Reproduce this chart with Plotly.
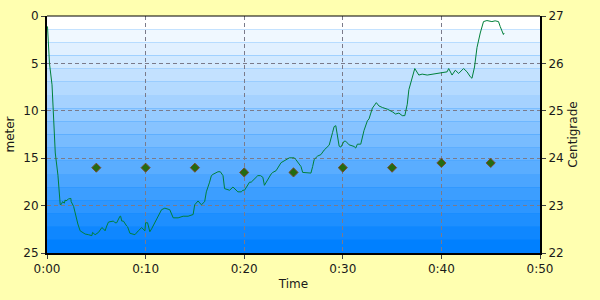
import plotly.graph_objects as go

# Depth profile (time in minutes, depth in meters)
time_min = [0.05, 0.13, 0.25, 0.51, 0.61, 0.78, 0.84, 1.11, 1.21, 1.34, 1.44, 1.59, 1.75, 1.85, 1.92,
            2.19, 2.42, 2.45, 2.70, 2.86, 3.13, 3.36, 3.71, 3.87, 4.21, 4.55, 4.62, 4.88, 5.22, 5.56,
            5.73, 5.89, 6.06, 6.23, 6.39, 6.74, 6.90, 7.07, 7.40, 7.47, 7.58, 7.75, 8.08, 8.18, 8.41,
            8.92, 9.26, 9.60, 9.93, 10.00, 10.20, 10.43, 10.61, 10.94, 11.21, 11.62, 11.95, 12.45,
            12.80, 13.30, 13.81, 14.31, 14.82, 14.98, 15.32, 15.66, 15.99, 16.16, 16.49, 16.67, 16.84,
            17.17, 17.34, 17.58, 17.85, 18.01, 18.35, 18.52, 18.86, 19.19, 19.36, 19.70, 19.87, 20.03,
            20.37, 20.54, 20.71, 21.04, 21.38, 21.65, 21.89, 22.05, 22.39, 22.73, 22.90, 23.23, 23.74,
            24.24, 24.58, 24.75, 25.08, 25.25, 25.59, 25.76, 25.93, 26.43, 26.77, 26.94, 27.10, 27.44,
            27.78, 28.11, 28.62, 28.96, 29.12, 29.29, 29.46, 29.63, 29.80, 30.13, 30.30, 30.64, 31.14,
            31.31, 31.48, 31.82, 32.15, 32.49, 32.66, 33.00, 33.40, 33.67, 34.01, 34.52, 35.02, 35.35,
            35.69, 36.03, 36.29, 36.54, 36.70, 37.04, 37.30, 37.71, 38.05, 38.56, 39.06, 39.57, 40.07,
            40.58, 40.74, 41.08, 41.41, 41.75, 42.25, 42.60, 42.93, 43.10, 43.36, 43.61, 43.94, 44.27,
            44.62, 45.12, 45.45, 45.79, 45.96, 46.13, 46.29, 46.36]
depth_m = [1.10, 2.64, 5.00, 7.26, 10.00, 12.73, 14.45, 16.80, 18.55, 19.89, 19.89, 19.58, 19.75, 19.40, 19.51,
           19.30, 19.24, 19.58, 20.09, 20.91, 21.94, 22.66, 22.86, 23.00, 23.07, 23.17, 22.83, 23.07, 22.83, 22.32,
           22.45, 22.66, 22.15, 21.74, 21.70, 21.63, 21.81, 21.81, 21.12, 21.12, 21.63, 21.63, 22.15, 22.25, 22.92,
           23.07, 22.66, 22.32, 22.66, 21.81, 21.81, 22.76, 22.45, 21.81, 21.22, 20.43, 20.27, 20.43,
           21.29, 21.29, 21.12, 21.12, 20.94, 19.92, 19.51, 19.92, 19.58, 18.55, 17.53, 16.84, 16.70,
           16.50, 16.43, 16.43, 16.84, 18.21, 18.38, 18.38, 18.04, 18.38, 18.55, 18.55, 18.38, 18.38,
           17.70, 17.53, 17.53, 17.19, 16.84, 16.84, 17.01, 17.86, 17.19, 16.67, 16.50, 16.32, 15.47,
           15.13, 14.96, 14.96, 14.96, 15.16, 15.68, 15.88, 16.50, 16.50, 16.57, 15.88, 15.13, 14.78,
           14.62, 14.14, 13.62, 12.29, 11.67, 11.57, 12.49, 13.73, 13.83, 13.21, 13.21, 13.59, 13.76,
           13.93, 13.52, 13.52, 12.08, 11.06, 10.85, 9.72, 9.14, 9.49, 9.65, 9.83, 10.10, 10.34,
           10.24, 10.51, 10.51, 9.31, 7.77, 6.41, 5.54, 6.23, 6.13, 6.23, 6.16, 6.06, 6.00,
           5.89, 5.54, 6.23, 5.72, 6.06, 5.54, 5.89, 6.41, 6.57, 5.38, 3.33, 1.79, 0.59,
           0.48, 0.59, 0.51, 0.59, 1.10, 1.61, 1.95, 1.79]

# Temperature samples
temp_time = [5, 10, 15, 20, 25, 30, 35, 40, 45]
temp_c = [23.8, 23.8, 23.8, 23.7, 23.7, 23.8, 23.8, 23.9, 23.9]

x_ticks = [0, 10, 20, 30, 40, 50]
x_labels = ["0:00", "0:10", "0:20", "0:30", "0:40", "0:50"]
depth_ticks = [0, 5, 10, 15, 20, 25]
temp_ticks = [22, 23, 24, 25, 26, 27]

FONT = "DejaVu Sans"
TXT = "#1a1a1a"

fig = go.Figure()
fig.add_trace(go.Scatter(x=time_min, y=depth_m, mode="lines",
                         line=dict(color="#00803a", width=1), yaxis="y", showlegend=False))
fig.add_trace(go.Scatter(x=temp_time, y=temp_c, mode="markers",
                         marker=dict(symbol="diamond", size=7, color="#246b12",
                                     line=dict(color="#7a4a30", width=1)),
                         yaxis="y2", showlegend=False))

# gradient background bands
n = 18
top = (255, 255, 255)
bot = (0, 128, 255)
shapes = []
for i in range(n):
    f = i / (n - 1)
    c = tuple(round(top[k] + (bot[k] - top[k]) * f) for k in range(3))
    shapes.append(dict(type="rect", xref="x domain", yref="y domain",
                       x0=0, x1=1, y0=1 - (i + 1) / n, y1=1 - i / n,
                       fillcolor="rgb(%d,%d,%d)" % c, line=dict(width=0), layer="below"))
shapes.append(dict(type="line", xref="x domain", yref="y domain", x0=0, x1=1, y0=1, y1=1,
                   line=dict(color="black", width=1), layer="above"))

fig.update_layout(
    width=600, height=300,
    margin=dict(l=45, r=60, t=9, b=47),
    paper_bgcolor="#FFFFB0",
    plot_bgcolor="#0080FF",
    font=dict(family=FONT, size=12, color=TXT),
    shapes=shapes,
    xaxis=dict(range=[0, 50], tickvals=x_ticks, ticktext=x_labels,
               showgrid=True, gridcolor="#7a7a8a", griddash="4px,3px", gridwidth=1,
               zeroline=False, showline=True, linecolor="black", linewidth=2,
               ticks="outside", ticklen=4, tickcolor="#404040",
               title=dict(text="Time", standoff=4, font=dict(size=12))),
    yaxis=dict(range=[25, 0], tickvals=depth_ticks,
               showgrid=True, gridcolor="#7a7a8a", griddash="4px,3px", gridwidth=1,
               zeroline=False, showline=True, linecolor="black", linewidth=2,
               ticks="outside", ticklen=4, tickcolor="#404040",
               title=dict(text="meter", standoff=6, font=dict(size=12))),
    yaxis2=dict(range=[22, 27], tickvals=temp_ticks, overlaying="y", side="right",
                showgrid=False, zeroline=False, showline=True, linecolor="black", linewidth=2,
                ticks="outside", ticklen=4, tickcolor="#404040",
                title=dict(text="Centigrade", standoff=6, font=dict(size=12))),
)

fig.write_html("out.html")
